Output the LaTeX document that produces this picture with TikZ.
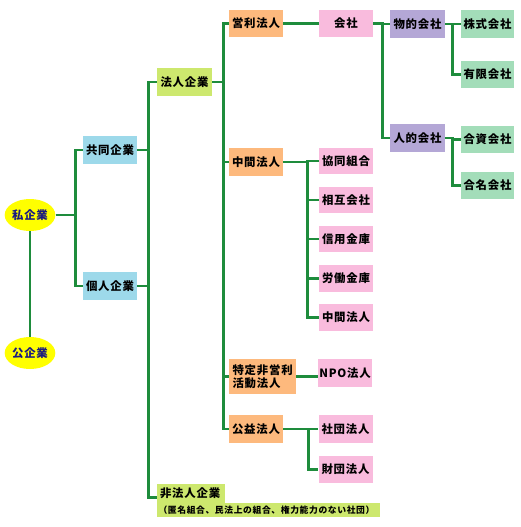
\documentclass[tikz,border=0pt]{standalone}
\usepackage{fontspec}
\setmainfont{Noto Sans CJK JP}[LetterSpace=7]
\usepackage{tikz}
\usetikzlibrary{shapes.geometric}
\definecolor{linegreen}{HTML}{1E8C3C}
\definecolor{ovalyellow}{HTML}{FFFF00}
\definecolor{ovaltext}{HTML}{1A1A80}
\definecolor{skyfill}{HTML}{9DD9EA}
\definecolor{limefill}{HTML}{CDE86E}
\definecolor{orangefill}{HTML}{FDB97D}
\definecolor{pinkfill}{HTML}{F9BBDD}
\definecolor{purplefill}{HTML}{B4A7D6}
\definecolor{mintfill}{HTML}{A3DDB9}
\tikzset{
  conn/.style={draw=linegreen,line width=2.8pt},
  box/.style={inner sep=0pt,minimum width=54pt,minimum height=27pt,font=\bfseries\fontsize{11.4}{13}\selectfont},
  oval/.style={ellipse,fill=ovalyellow,inner sep=0pt,minimum width=50pt,minimum height=32pt,text=ovaltext,font=\bfseries\fontsize{11.4}{13}\selectfont},
  skybox/.style={box,fill=skyfill},
  limebox/.style={box,fill=limefill},
  orangebox/.style={box,fill=orangefill},
  pinkbox/.style={box,fill=pinkfill},
  purplebox/.style={box,fill=purplefill},
  mintbox/.style={box,fill=mintfill}
}

\begin{document}
\begin{tikzpicture}[x=1pt,y=-1pt]
\useasboundingbox (0,0) rectangle (520,527);
\node[oval] (shi) at (30,215) {私企業};
\node[oval] (ko) at (30,353) {公企業};
\node[skybox,minimum height=28pt] (kyodo) at (110,150) {共同企業};
\node[skybox,minimum height=28pt] (kojin) at (110,286) {個人企業};
\node[limebox,minimum width=55pt,minimum height=28pt] (hojin) at (184.5,82) {法人企業};
\node[limebox,minimum width=68pt,minimum height=19pt,text width=62pt,align=left] (hihojin) at (191,493.5) {非法人企業};
\node[limebox,minimum width=223pt,minimum height=14pt,text width=220pt,align=left,font=\bfseries\fontsize{8.8}{10}\selectfont] (hinote) at (268.5,510) {（匿名組合、民法上の組合、権力能力のない社団）};
\node[orangebox] (eiri) at (256,23.5) {営利法人};
\node[orangebox,minimum height=28pt] (chukan) at (256,162) {中間法人};
\node[orangebox,minimum width=67pt,minimum height=35pt,text width=60pt,align=left] (npohojin) at (262.5,376.5) {特定非営利\\活動法人};
\node[orangebox,minimum height=28pt] (koeki) at (256,429) {公益法人};
\node[pinkbox] (kaisha) at (346,23.5) {会社};
\node[pinkbox,minimum height=26pt] (kyodokumiai) at (346,161) {協同組合};
\node[pinkbox,minimum height=26pt] (sogo) at (346,200) {相互会社};
\node[pinkbox,minimum height=26pt] (shinkin) at (346,239) {信用金庫};
\node[pinkbox] (rokin) at (346,278.5) {労働金庫};
\node[pinkbox] (chukan2) at (346,317.5) {中間法人};
\node[pinkbox,minimum height=28pt] (npo) at (345,373) {NPO法人};
\node[pinkbox,minimum height=28pt] (shadan) at (345.5,429) {社団法人};
\node[pinkbox] (zaidan) at (345.5,469.5) {財団法人};
\node[purplebox,minimum width=55pt,minimum height=28pt] (butsuteki) at (417.5,24) {物的会社};
\node[purplebox,minimum width=55pt,minimum height=28pt] (jinteki) at (417.5,138) {人的会社};
\node[mintbox,minimum width=53pt,minimum height=28pt] (kabushiki) at (487.5,24) {株式会社};
\node[mintbox,minimum width=53pt] (yugen) at (487.5,74.5) {有限会社};
\node[mintbox,minimum width=53pt] (goshi) at (487.5,139.5) {合資会社};
\node[mintbox,minimum width=53pt] (gomei) at (487.5,185.5) {合名会社};
\draw[conn] (shi) -- (ko);
\draw[conn] (shi.east) -- ++(20,0) |- (kyodo.west);
\draw[conn] (shi.east) -- ++(20,0) |- (kojin.west);
\draw[conn] (kyodo.east) -- ++(11,0) |- (hojin.west);
\draw[conn] (kyodo.east) -- ++(11,0) |- ([yshift=-4pt]hihojin.west);
\draw[conn] (kojin.east) -- ++(11,0) |- (hojin.west);
\draw[conn] (kojin.east) -- ++(11,0) |- ([yshift=-4pt]hihojin.west);
\draw[conn] (hojin.east) -- ++(11,0) |- (eiri.west);
\draw[conn] (hojin.east) -- ++(11,0) |- (chukan.west);
\draw[conn] (hojin.east) -- ++(11,0) |- (npohojin.west);
\draw[conn] (hojin.east) -- ++(11,0) |- (koeki.west);
\draw[conn] (eiri) -- (kaisha);
\draw[conn] (kaisha.east) -- ++(9,0) |- (butsuteki.west);
\draw[conn] (kaisha.east) -- ++(9,0) |- (jinteki.west);
\draw[conn] (butsuteki.east) -- ++(7,0) |- (kabushiki.west);
\draw[conn] (butsuteki.east) -- ++(7,0) |- (yugen.west);
\draw[conn] (jinteki.east) -- ++(7,0) |- (goshi.west);
\draw[conn] (jinteki.east) -- ++(7,0) |- (gomei.west);
\draw[conn] (chukan.east) -- ++(24,0) |- (kyodokumiai.west);
\draw[conn] (chukan.east) -- ++(24,0) |- (sogo.west);
\draw[conn] (chukan.east) -- ++(24,0) |- (shinkin.west);
\draw[conn] (chukan.east) -- ++(24,0) |- (rokin.west);
\draw[conn] (chukan.east) -- ++(24,0) |- (chukan2.west);
\draw[conn] (npohojin.east) -- (npohojin.east -| npo.west);
\draw[conn] (koeki.east) -- ++(25,0) |- (shadan.west);
\draw[conn] (koeki.east) -- ++(25,0) |- (zaidan.west);
\end{tikzpicture}
\end{document}
